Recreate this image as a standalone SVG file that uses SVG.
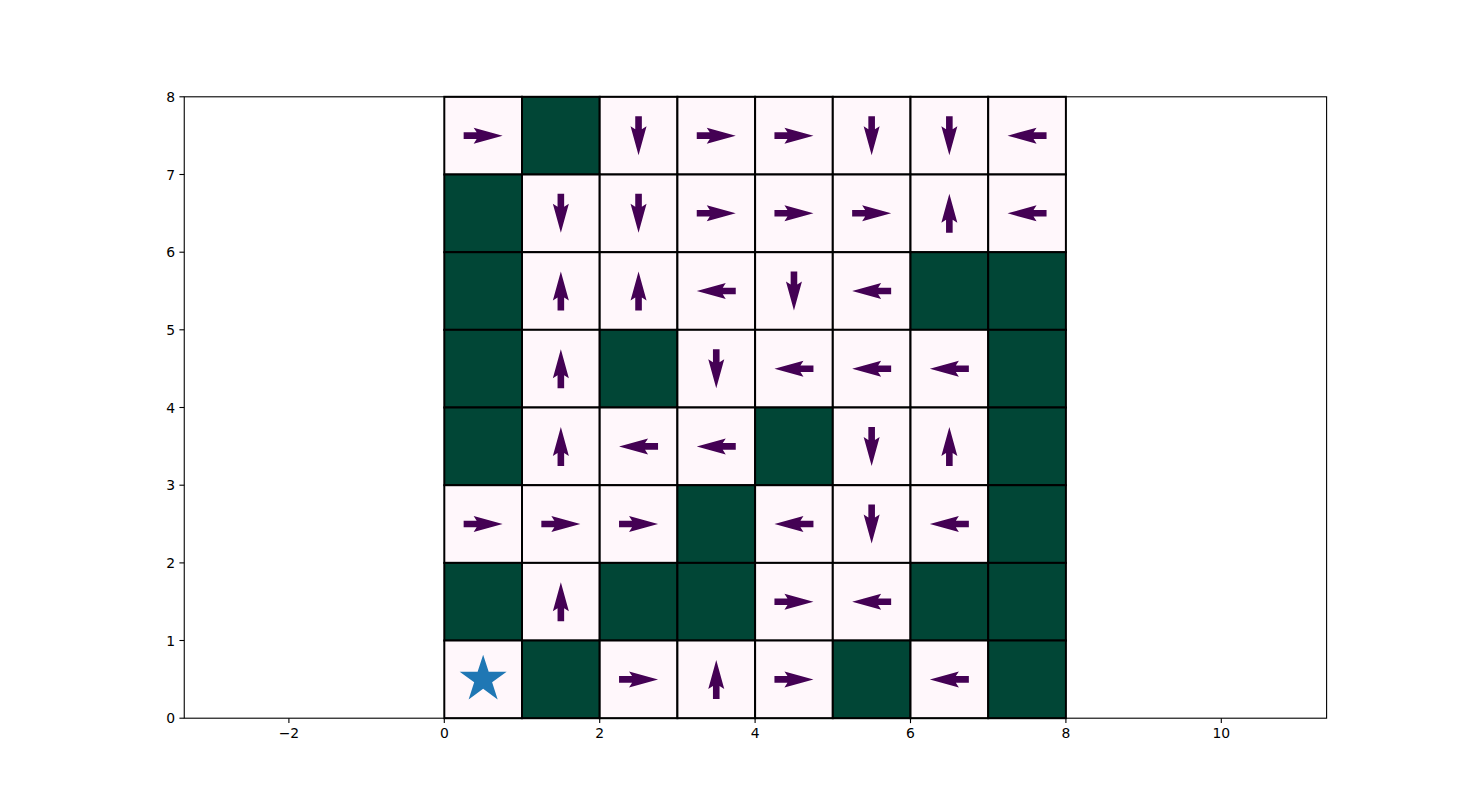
<svg xmlns="http://www.w3.org/2000/svg" xmlns:xlink="http://www.w3.org/1999/xlink" width="1474" height="807" viewBox="0 0 1474 807">
<defs>
<style>
.e{fill:#fff7fb;stroke:#000;stroke-width:2}
.w{fill:#014636;stroke:#000;stroke-width:2}
.t{font-family:"DejaVu Sans",sans-serif;font-size:13.9px;fill:#000}
.tk{stroke:#000;stroke-width:1.1}
</style>
<path id="a" d="M-19.5,-3.3 L-6.5,-3.3 L-9.5,-8 L19.5,0 L-9.5,8 L-6.5,3.3 L-19.5,3.3 Z" fill="#440154"/>
</defs>
<rect width="1474" height="807" fill="#fff"/>
<rect x="184.25" y="96.8" width="1142.35" height="621.4" fill="#fff"/>
<g id="row7">
<g id="c0_7"><rect class="e" x="444.3" y="96.8" width="77.7" height="77.7"/><use xlink:href="#a" transform="translate(483.15,135.64)"/></g>
<g id="c1_7"><rect class="w" x="522.0" y="96.8" width="77.7" height="77.7"/></g>
<g id="c2_7"><rect class="e" x="599.7" y="96.8" width="77.7" height="77.7"/><use xlink:href="#a" transform="translate(638.55,135.64) rotate(90)"/></g>
<g id="c3_7"><rect class="e" x="677.4" y="96.8" width="77.7" height="77.7"/><use xlink:href="#a" transform="translate(716.25,135.64)"/></g>
<g id="c4_7"><rect class="e" x="755.1" y="96.8" width="77.7" height="77.7"/><use xlink:href="#a" transform="translate(793.95,135.64)"/></g>
<g id="c5_7"><rect class="e" x="832.8" y="96.8" width="77.7" height="77.7"/><use xlink:href="#a" transform="translate(871.65,135.64) rotate(90)"/></g>
<g id="c6_7"><rect class="e" x="910.5" y="96.8" width="77.7" height="77.7"/><use xlink:href="#a" transform="translate(949.35,135.64) rotate(90)"/></g>
<g id="c7_7"><rect class="e" x="988.2" y="96.8" width="77.7" height="77.7"/><use xlink:href="#a" transform="translate(1027.05,135.64) rotate(180)"/></g>
</g>
<g id="row6">
<g id="c0_6"><rect class="w" x="444.3" y="174.5" width="77.7" height="77.7"/></g>
<g id="c1_6"><rect class="e" x="522.0" y="174.5" width="77.7" height="77.7"/><use xlink:href="#a" transform="translate(560.85,213.3) rotate(90)"/></g>
<g id="c2_6"><rect class="e" x="599.7" y="174.5" width="77.7" height="77.7"/><use xlink:href="#a" transform="translate(638.55,213.3) rotate(90)"/></g>
<g id="c3_6"><rect class="e" x="677.4" y="174.5" width="77.7" height="77.7"/><use xlink:href="#a" transform="translate(716.25,213.3)"/></g>
<g id="c4_6"><rect class="e" x="755.1" y="174.5" width="77.7" height="77.7"/><use xlink:href="#a" transform="translate(793.95,213.3)"/></g>
<g id="c5_6"><rect class="e" x="832.8" y="174.5" width="77.7" height="77.7"/><use xlink:href="#a" transform="translate(871.65,213.3)"/></g>
<g id="c6_6"><rect class="e" x="910.5" y="174.5" width="77.7" height="77.7"/><use xlink:href="#a" transform="translate(949.35,213.3) rotate(-90)"/></g>
<g id="c7_6"><rect class="e" x="988.2" y="174.5" width="77.7" height="77.7"/><use xlink:href="#a" transform="translate(1027.05,213.3) rotate(180)"/></g>
</g>
<g id="row5">
<g id="c0_5"><rect class="w" x="444.3" y="252.2" width="77.7" height="77.7"/></g>
<g id="c1_5"><rect class="e" x="522.0" y="252.2" width="77.7" height="77.7"/><use xlink:href="#a" transform="translate(560.85,291.0) rotate(-90)"/></g>
<g id="c2_5"><rect class="e" x="599.7" y="252.2" width="77.7" height="77.7"/><use xlink:href="#a" transform="translate(638.55,291.0) rotate(-90)"/></g>
<g id="c3_5"><rect class="e" x="677.4" y="252.2" width="77.7" height="77.7"/><use xlink:href="#a" transform="translate(716.25,291.0) rotate(180)"/></g>
<g id="c4_5"><rect class="e" x="755.1" y="252.2" width="77.7" height="77.7"/><use xlink:href="#a" transform="translate(793.95,291.0) rotate(90)"/></g>
<g id="c5_5"><rect class="e" x="832.8" y="252.2" width="77.7" height="77.7"/><use xlink:href="#a" transform="translate(871.65,291.0) rotate(180)"/></g>
<g id="c6_5"><rect class="w" x="910.5" y="252.2" width="77.7" height="77.7"/></g>
<g id="c7_5"><rect class="w" x="988.2" y="252.2" width="77.7" height="77.7"/></g>
</g>
<g id="row4">
<g id="c0_4"><rect class="w" x="444.3" y="329.8" width="77.7" height="77.7"/></g>
<g id="c1_4"><rect class="e" x="522.0" y="329.8" width="77.7" height="77.7"/><use xlink:href="#a" transform="translate(560.85,368.7) rotate(-90)"/></g>
<g id="c2_4"><rect class="w" x="599.7" y="329.8" width="77.7" height="77.7"/></g>
<g id="c3_4"><rect class="e" x="677.4" y="329.8" width="77.7" height="77.7"/><use xlink:href="#a" transform="translate(716.25,368.7) rotate(90)"/></g>
<g id="c4_4"><rect class="e" x="755.1" y="329.8" width="77.7" height="77.7"/><use xlink:href="#a" transform="translate(793.95,368.7) rotate(180)"/></g>
<g id="c5_4"><rect class="e" x="832.8" y="329.8" width="77.7" height="77.7"/><use xlink:href="#a" transform="translate(871.65,368.7) rotate(180)"/></g>
<g id="c6_4"><rect class="e" x="910.5" y="329.8" width="77.7" height="77.7"/><use xlink:href="#a" transform="translate(949.35,368.7) rotate(180)"/></g>
<g id="c7_4"><rect class="w" x="988.2" y="329.8" width="77.7" height="77.7"/></g>
</g>
<g id="row3">
<g id="c0_3"><rect class="w" x="444.3" y="407.5" width="77.7" height="77.7"/></g>
<g id="c1_3"><rect class="e" x="522.0" y="407.5" width="77.7" height="77.7"/><use xlink:href="#a" transform="translate(560.85,446.4) rotate(-90)"/></g>
<g id="c2_3"><rect class="e" x="599.7" y="407.5" width="77.7" height="77.7"/><use xlink:href="#a" transform="translate(638.55,446.4) rotate(180)"/></g>
<g id="c3_3"><rect class="e" x="677.4" y="407.5" width="77.7" height="77.7"/><use xlink:href="#a" transform="translate(716.25,446.4) rotate(180)"/></g>
<g id="c4_3"><rect class="w" x="755.1" y="407.5" width="77.7" height="77.7"/></g>
<g id="c5_3"><rect class="e" x="832.8" y="407.5" width="77.7" height="77.7"/><use xlink:href="#a" transform="translate(871.65,446.4) rotate(90)"/></g>
<g id="c6_3"><rect class="e" x="910.5" y="407.5" width="77.7" height="77.7"/><use xlink:href="#a" transform="translate(949.35,446.4) rotate(-90)"/></g>
<g id="c7_3"><rect class="w" x="988.2" y="407.5" width="77.7" height="77.7"/></g>
</g>
<g id="row2">
<g id="c0_2"><rect class="e" x="444.3" y="485.2" width="77.7" height="77.7"/><use xlink:href="#a" transform="translate(483.15,524.0)"/></g>
<g id="c1_2"><rect class="e" x="522.0" y="485.2" width="77.7" height="77.7"/><use xlink:href="#a" transform="translate(560.85,524.0)"/></g>
<g id="c2_2"><rect class="e" x="599.7" y="485.2" width="77.7" height="77.7"/><use xlink:href="#a" transform="translate(638.55,524.0)"/></g>
<g id="c3_2"><rect class="w" x="677.4" y="485.2" width="77.7" height="77.7"/></g>
<g id="c4_2"><rect class="e" x="755.1" y="485.2" width="77.7" height="77.7"/><use xlink:href="#a" transform="translate(793.95,524.0) rotate(180)"/></g>
<g id="c5_2"><rect class="e" x="832.8" y="485.2" width="77.7" height="77.7"/><use xlink:href="#a" transform="translate(871.65,524.0) rotate(90)"/></g>
<g id="c6_2"><rect class="e" x="910.5" y="485.2" width="77.7" height="77.7"/><use xlink:href="#a" transform="translate(949.35,524.0) rotate(180)"/></g>
<g id="c7_2"><rect class="w" x="988.2" y="485.2" width="77.7" height="77.7"/></g>
</g>
<g id="row1">
<g id="c0_1"><rect class="w" x="444.3" y="562.9" width="77.7" height="77.7"/></g>
<g id="c1_1"><rect class="e" x="522.0" y="562.9" width="77.7" height="77.7"/><use xlink:href="#a" transform="translate(560.85,601.7) rotate(-90)"/></g>
<g id="c2_1"><rect class="w" x="599.7" y="562.9" width="77.7" height="77.7"/></g>
<g id="c3_1"><rect class="w" x="677.4" y="562.9" width="77.7" height="77.7"/></g>
<g id="c4_1"><rect class="e" x="755.1" y="562.9" width="77.7" height="77.7"/><use xlink:href="#a" transform="translate(793.95,601.7)"/></g>
<g id="c5_1"><rect class="e" x="832.8" y="562.9" width="77.7" height="77.7"/><use xlink:href="#a" transform="translate(871.65,601.7) rotate(180)"/></g>
<g id="c6_1"><rect class="w" x="910.5" y="562.9" width="77.7" height="77.7"/></g>
<g id="c7_1"><rect class="w" x="988.2" y="562.9" width="77.7" height="77.7"/></g>
</g>
<g id="row0">
<g id="c0_0"><rect class="e" x="444.3" y="640.5" width="77.7" height="77.7"/><polygon fill="#1f77b4" points="483.15,654.7 488.69,671.77 506.64,671.77 492.12,682.31 497.67,699.38 483.15,688.83 468.63,699.38 474.18,682.31 459.66,671.77 477.61,671.77"/></g>
<g id="c1_0"><rect class="w" x="522.0" y="640.5" width="77.7" height="77.7"/></g>
<g id="c2_0"><rect class="e" x="599.7" y="640.5" width="77.7" height="77.7"/><use xlink:href="#a" transform="translate(638.55,679.4)"/></g>
<g id="c3_0"><rect class="e" x="677.4" y="640.5" width="77.7" height="77.7"/><use xlink:href="#a" transform="translate(716.25,679.4) rotate(-90)"/></g>
<g id="c4_0"><rect class="e" x="755.1" y="640.5" width="77.7" height="77.7"/><use xlink:href="#a" transform="translate(793.95,679.4)"/></g>
<g id="c5_0"><rect class="w" x="832.8" y="640.5" width="77.7" height="77.7"/></g>
<g id="c6_0"><rect class="e" x="910.5" y="640.5" width="77.7" height="77.7"/><use xlink:href="#a" transform="translate(949.35,679.4) rotate(180)"/></g>
<g id="c7_0"><rect class="w" x="988.2" y="640.5" width="77.7" height="77.7"/></g>
</g>
<g id="connectors"></g>
<g id="axes">
<rect x="184.25" y="96.8" width="1142.35" height="621.4" fill="none" stroke="#000" stroke-width="1.1"/>
<g class="tk">
<line x1="288.9" y1="718.2" x2="288.9" y2="723.1"/>
<line x1="444.3" y1="718.2" x2="444.3" y2="723.1"/>
<line x1="599.7" y1="718.2" x2="599.7" y2="723.1"/>
<line x1="755.1" y1="718.2" x2="755.1" y2="723.1"/>
<line x1="910.5" y1="718.2" x2="910.5" y2="723.1"/>
<line x1="1065.9" y1="718.2" x2="1065.9" y2="723.1"/>
<line x1="1221.3" y1="718.2" x2="1221.3" y2="723.1"/>
<line x1="184.25" y1="718.2" x2="179.4" y2="718.2"/>
<line x1="184.25" y1="640.5" x2="179.4" y2="640.5"/>
<line x1="184.25" y1="562.9" x2="179.4" y2="562.9"/>
<line x1="184.25" y1="485.2" x2="179.4" y2="485.2"/>
<line x1="184.25" y1="407.5" x2="179.4" y2="407.5"/>
<line x1="184.25" y1="329.8" x2="179.4" y2="329.8"/>
<line x1="184.25" y1="252.2" x2="179.4" y2="252.2"/>
<line x1="184.25" y1="174.5" x2="179.4" y2="174.5"/>
<line x1="184.25" y1="96.8" x2="179.4" y2="96.8"/>
</g>
<g class="t" text-anchor="middle">
<text x="288.9" y="738">−2</text>
<text x="444.3" y="738">0</text>
<text x="599.7" y="738">2</text>
<text x="755.1" y="738">4</text>
<text x="910.5" y="738">6</text>
<text x="1065.9" y="738">8</text>
<text x="1221.3" y="738">10</text>
</g>
<g class="t" text-anchor="end">
<text x="175" y="723.2">0</text>
<text x="175" y="645.5">1</text>
<text x="175" y="567.9">2</text>
<text x="175" y="490.2">3</text>
<text x="175" y="412.5">4</text>
<text x="175" y="334.8">5</text>
<text x="175" y="257.2">6</text>
<text x="175" y="179.5">7</text>
<text x="175" y="101.8">8</text>
</g>
</g>
</svg>
